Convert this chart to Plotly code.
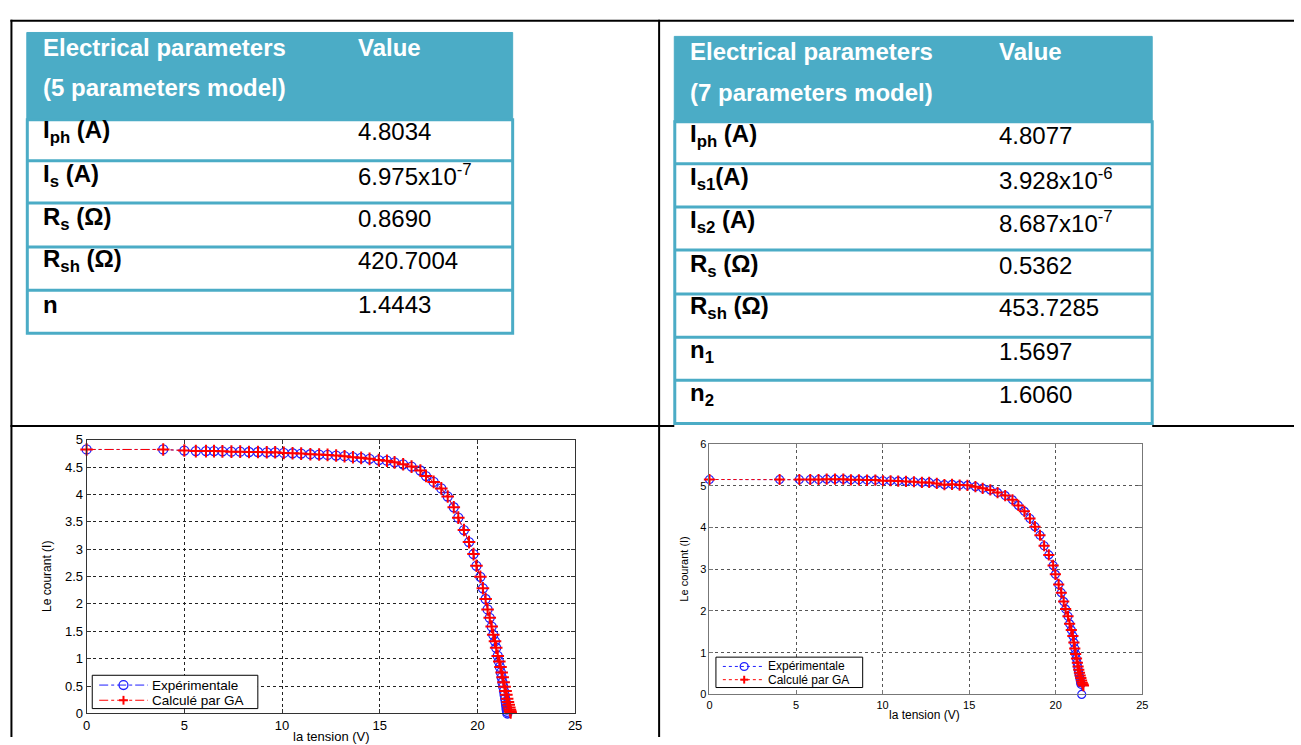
import plotly.graph_objects as go

W, H = 1301, 745

# ---------------- table data ----------------
tbl1_header = ["Electrical parameters", "(5 parameters model)"]
tbl1_value_header = "Value"
tbl1_params = ["I<sub>ph</sub> (A)", "I<sub>s</sub> (A)", "R<sub>s</sub> (Ω)", "R<sub>sh</sub> (Ω)", "n"]
tbl1_values = ["4.8034", "6.975x10<sup>-7</sup>", "0.8690", "420.7004", "1.4443"]

tbl2_header = ["Electrical parameters", "(7 parameters model)"]
tbl2_value_header = "Value"
tbl2_params = ["I<sub>ph</sub> (A)", "I<sub>s1</sub>(A)", "I<sub>s2</sub> (A)", "R<sub>s</sub> (Ω)",
               "R<sub>sh</sub> (Ω)", "n<sub>1</sub>", "n<sub>2</sub>"]
tbl2_values = ["4.8077", "3.928x10<sup>-6</sup>", "8.687x10<sup>-7</sup>", "0.5362", "453.7285", "1.5697", "1.6060"]

# ---------------- curve data (5 parameters model) ----------------
V1_common = [0, 3.92, 5.0, 5.59, 6.11, 6.52, 6.95, 7.41, 7.86, 8.31, 8.77, 9.22, 9.65, 10.09, 10.54,
             10.98, 11.45, 11.9, 12.33, 12.77, 13.2, 13.63, 14.05, 14.48, 14.95, 15.37, 15.76, 16.2,
             16.63, 17.08, 17.37, 17.76, 18.15, 18.48, 18.79, 19.02, 19.31, 19.57, 19.8, 19.95, 20.15,
             20.28, 20.42, 20.52, 20.63, 20.73, 20.81, 20.9, 20.96, 21.04]
I1_common = [4.82, 4.82, 4.80, 4.79, 4.79, 4.79, 4.786, 4.78, 4.78, 4.774, 4.774, 4.768, 4.768, 4.757,
             4.751, 4.745, 4.733, 4.727, 4.721, 4.709, 4.697, 4.679, 4.667, 4.649, 4.626, 4.615, 4.585,
             4.549, 4.507, 4.436, 4.335, 4.228, 4.109, 3.961, 3.765, 3.575, 3.349, 3.129, 2.91, 2.696,
             2.494, 2.286, 2.09, 1.9, 1.746, 1.586, 1.437, 1.318, 1.2, 1.051]
V1_exp_tail = [21.1, 21.15, 21.2, 21.24, 21.28, 21.32, 21.36, 21.39, 21.42, 21.45, 21.47, 21.49, 21.5, 21.52, 21.53]
I1_exp_tail = [0.95, 0.85, 0.75, 0.66, 0.57, 0.49, 0.41, 0.34, 0.27, 0.21, 0.16, 0.11, 0.07, 0.03, 0.0]
V1_ga_tail = [21.12, 21.18, 21.24, 21.29, 21.34, 21.39, 21.44, 21.48, 21.52, 21.56, 21.6, 21.63, 21.66, 21.68, 21.7]
I1_ga_tail = [0.95, 0.85, 0.75, 0.66, 0.57, 0.49, 0.41, 0.34, 0.27, 0.21, 0.16, 0.11, 0.07, 0.04, 0.02]

V1_exp = V1_common + V1_exp_tail
I1_exp = I1_common + I1_exp_tail
V1_ga = V1_common + V1_ga_tail
I1_ga = I1_common + I1_ga_tail

# ---------------- curve data (7 parameters model) ----------------
V2_common = [0, 4.05, 5.19, 5.82, 6.3, 6.77, 7.25, 7.73, 8.17, 8.63, 9.1, 9.58, 10.02, 10.46, 10.9,
             11.35, 11.81, 12.27, 12.69, 13.13, 13.57, 14.01, 14.45, 14.9, 15.36, 15.78, 16.22, 16.64,
             17.08, 17.5, 17.84, 18.19, 18.51, 18.8, 19.09, 19.33, 19.6, 19.85, 19.98, 20.17, 20.32,
             20.46, 20.57, 20.71, 20.8, 20.9, 20.99, 21.05]
I2_common = [5.15, 5.15, 5.15, 5.15, 5.15, 5.158, 5.158, 5.158, 5.143, 5.143, 5.136, 5.136, 5.12, 5.12,
             5.111, 5.103, 5.096, 5.08, 5.08, 5.056, 5.025, 5.033, 5.017, 5.009, 4.978, 4.938, 4.899,
             4.836, 4.765, 4.663, 4.529, 4.388, 4.215, 4.018, 3.814, 3.562, 3.342, 3.09, 2.878, 2.634,
             2.438, 2.225, 2.045, 1.872, 1.691, 1.541, 1.4, 1.242]
V2_exp_tail = [21.1, 21.15, 21.19, 21.23, 21.27, 21.3, 21.33, 21.36, 21.39, 21.42, 21.44, 21.46, 21.5]
I2_exp_tail = [1.1, 0.97, 0.86, 0.76, 0.67, 0.59, 0.52, 0.45, 0.39, 0.33, 0.28, 0.24, 0.0]
V2_ga_tail = [21.1, 21.15, 21.2, 21.25, 21.29, 21.33, 21.37, 21.41, 21.45, 21.49, 21.53, 21.57, 21.6]
I2_ga_tail = [1.1, 0.97, 0.86, 0.76, 0.67, 0.59, 0.52, 0.45, 0.39, 0.33, 0.28, 0.24, 0.21]

V2_exp = V2_common + V2_exp_tail
I2_exp = I2_common + I2_exp_tail
V2_ga = V2_common + V2_ga_tail
I2_ga = I2_common + I2_ga_tail

series_names = ["Expérimentale", "Calculé par GA"]
x_title = "la tension (V)"
y_title = "Le courant (I)"
x_ticks = [0, 5, 10, 15, 20, 25]
y1_ticks = [0, 0.5, 1, 1.5, 2, 2.5, 3, 3.5, 4, 4.5, 5]
y2_ticks = [0, 1, 2, 3, 4, 5, 6]

# ---------------- helpers ----------------
FONT = "Liberation Sans, Arial, sans-serif"
TEAL = "#4BACC6"
BLUE = "rgb(30,30,255)"
RED = "rgb(255,0,0)"


def fx(x):
    return x / W


def fy(y):
    return 1 - y / H


shapes = []
annotations = []


def line(x0, y0, x1, y1, color="black", width=2, dash="solid"):
    shapes.append(dict(type="line", xref="paper", yref="paper", x0=fx(x0), y0=fy(y0), x1=fx(x1), y1=fy(y1),
                       line=dict(color=color, width=width, dash=dash), layer="above"))


def rect(x0, y0, x1, y1, fill=None, color=TEAL, width=3):
    shapes.append(dict(type="rect", xref="paper", yref="paper", x0=fx(x0), y0=fy(y0), x1=fx(x1), y1=fy(y1),
                       fillcolor=fill if fill else "rgba(0,0,0,0)",
                       line=dict(color=color, width=width), layer="above"))


def circle(cx, cy, r, color, width):
    shapes.append(dict(type="circle", xref="paper", yref="paper", x0=fx(cx - r), x1=fx(cx + r),
                       y0=fy(cy + r), y1=fy(cy - r), line=dict(color=color, width=width), layer="above"))


def text(x, y, s, size=24, color="black", bold=False, xanchor="left", yanchor="middle", angle=0):
    annotations.append(dict(xref="paper", yref="paper", x=fx(x), y=fy(y), text=("<b>%s</b>" % s) if bold else s,
                            showarrow=False, xanchor=xanchor, yanchor=yanchor, textangle=angle,
                            font=dict(family=FONT, size=size, color=color), borderpad=0))


# outer document table frame
line(6.5, 14, W, 14)
line(7.5, 13, 7.5, H)
line(660.7, 13, 660.7, H)
line(6.5, 427.5, 676, 427.5)
line(1158, 427.5, W, 427.5)


def build_table(x0, x1, y_top, y_head_bot, row_bounds, head_centers, row_centers, label_x, value_x,
                header, value_header, params, values):
    rect(x0, y_top, x1, y_head_bot, fill=TEAL, color=TEAL, width=1)
    rect(x0 + 0.5, y_head_bot, x1, row_bounds[-1], color=TEAL, width=3)
    for yb in row_bounds[1:-1]:
        line(x0 + 0.5, yb, x1, yb, color=TEAL, width=3)
    text(label_x, head_centers[0], header[0], color="white", bold=True)
    text(label_x, head_centers[1], header[1], color="white", bold=True)
    text(value_x, head_centers[0], value_header, color="white", bold=True)
    for p, v, yc in zip(params, values, row_centers):
        text(label_x, yc, p, bold=True)
        text(value_x, yc, v)


build_table(23, 513, 26, 115, [115, 157, 200, 245, 289, 333], [41.5, 82], [127, 171.5, 216, 259, 303.5],
            38, 356, tbl1_header, tbl1_value_header, tbl1_params, tbl1_values)
build_table(676, 1158, 30, 117, [117, 160, 204, 248, 293, 337, 381, 425], [45.5, 87],
            [131.5, 175.5, 219, 263.5, 306.5, 351.5, 395],
            691, 1002, tbl2_header, tbl2_value_header, tbl2_params, tbl2_values)

# axis titles (as annotations for exact placement); the first one sits at the page edge as in the source
text(330, 736, x_title, size=13, xanchor="center", yanchor="top")
text(44, 581, y_title, size=12, xanchor="center", yanchor="middle", angle=-90)
text(928, 722.5, x_title, size=12, xanchor="center", yanchor="middle")
text(686, 574, y_title, size=11, xanchor="center", yanchor="middle", angle=-90)


# MATLAB-style legend boxes
def legend_box(box, row_y, sample_x, marker_x, text_x, dash, font_size, msize):
    rect(box[0], box[1], box[2], box[3], fill="white", color="black", width=1)
    line(sample_x[0], row_y[0], sample_x[1], row_y[0], color=BLUE, width=1, dash=dash)
    circle(marker_x, row_y[0], msize / 2, BLUE, 1.3)
    text(text_x, row_y[0], series_names[0], size=font_size)
    line(sample_x[0], row_y[1], sample_x[1], row_y[1], color=RED, width=1, dash=dash)
    line(marker_x - msize / 2, row_y[1], marker_x + msize / 2, row_y[1], color=RED, width=2)
    line(marker_x, row_y[1] - msize / 2, marker_x, row_y[1] + msize / 2, color=RED, width=2)
    text(text_x, row_y[1], series_names[1], size=font_size)


legend_box((89, 682, 256, 716), (692, 707.5), (96, 145), 120.5, 148, "dashdot", 13.5, 9)
legend_box((718, 663.5, 866, 694.5), (673, 686.5), (725, 767), 746.5, 770, "dot", 12, 8)

fig = go.Figure()

fig.add_trace(go.Scatter(x=V1_exp, y=I1_exp, mode="lines+markers", name=series_names[0],
                         xaxis="x", yaxis="y", showlegend=False, cliponaxis=False,
                         line=dict(color=BLUE, dash="dashdot", width=1),
                         marker=dict(symbol="circle-open", size=9, color=BLUE, line=dict(width=1.3, color=BLUE))))
fig.add_trace(go.Scatter(x=V1_ga, y=I1_ga, mode="lines+markers", name=series_names[1],
                         xaxis="x", yaxis="y", showlegend=False, cliponaxis=False,
                         line=dict(color=RED, dash="dashdot", width=1),
                         marker=dict(symbol="cross-thin-open", size=9, color=RED, line=dict(width=2, color=RED))))
fig.add_trace(go.Scatter(x=V2_exp, y=I2_exp, mode="lines+markers", name=series_names[0],
                         xaxis="x2", yaxis="y2", showlegend=False, cliponaxis=False,
                         line=dict(color=BLUE, dash="dot", width=1),
                         marker=dict(symbol="circle-open", size=8, color=BLUE, line=dict(width=1.2, color=BLUE))))
fig.add_trace(go.Scatter(x=V2_ga, y=I2_ga, mode="lines+markers", name=series_names[1],
                         xaxis="x2", yaxis="y2", showlegend=False, cliponaxis=False,
                         line=dict(color=RED, dash="dot", width=1),
                         marker=dict(symbol="cross-thin-open", size=8, color=RED, line=dict(width=2, color=RED))))

axis_common = dict(showline=True, mirror="ticks", ticks="inside", ticklen=4, zeroline=False,
                   showgrid=True, griddash="dot", gridwidth=1, fixedrange=True)

fig.update_layout(
    width=W, height=H,
    margin=dict(l=0, r=0, t=0, b=0),
    paper_bgcolor="white", plot_bgcolor="white",
    shapes=shapes, annotations=annotations,
    xaxis=dict(domain=[fx(83.3), fx(576)], anchor="y", range=[0, 25], tickvals=x_ticks,
               linecolor="#333", tickcolor="#333", gridcolor="#222",
               tickfont=dict(family=FONT, size=13, color="black"), **axis_common),
    yaxis=dict(domain=[fy(721), fy(441.5)], anchor="x", range=[0, 5], tickvals=y1_ticks,
               ticktext=[("%g" % v) for v in y1_ticks],
               linecolor="#333", tickcolor="#333", gridcolor="#222",
               tickfont=dict(family=FONT, size=13, color="black"), **axis_common),
    xaxis2=dict(domain=[fx(711.5), fx(1148)], anchor="y2", range=[0, 25], tickvals=x_ticks,
                linecolor="#777", tickcolor="#777", gridcolor="#555",
                tickfont=dict(family=FONT, size=11, color="black"), **axis_common),
    yaxis2=dict(domain=[fy(701.5), fy(446)], anchor="x2", range=[0, 6], tickvals=y2_ticks,
                linecolor="#777", tickcolor="#777", gridcolor="#555",
                tickfont=dict(family=FONT, size=11, color="black"), **axis_common),
    showlegend=False,
)

fig.write_html("out.html")
